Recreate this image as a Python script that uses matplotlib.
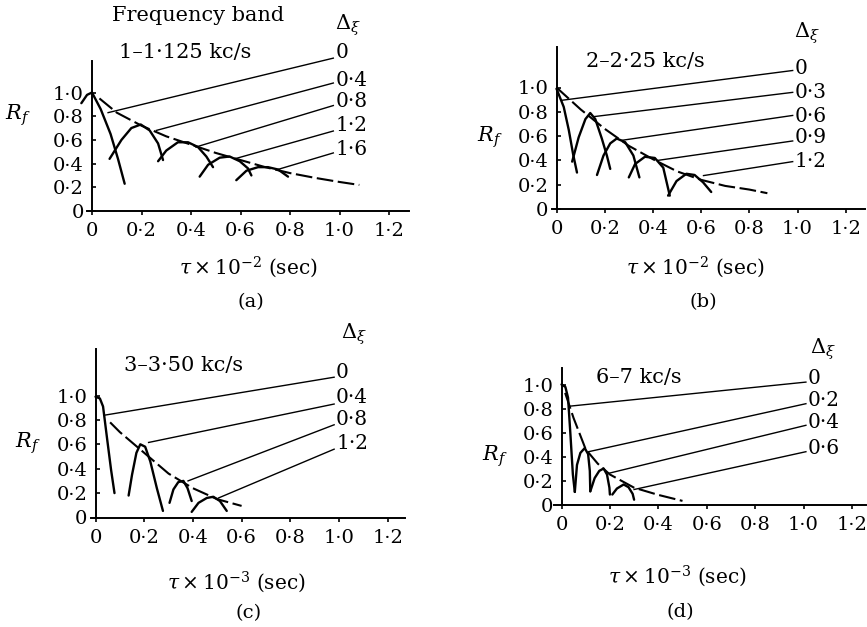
import matplotlib.pyplot as plt

plt.rcParams['font.family'] = 'DejaVu Serif'
plt.rcParams['mathtext.fontset'] = 'dejavuserif'

# ---------------- data ----------------
ticks_x = [0, 0.2, 0.4, 0.6, 0.8, 1.0, 1.2]
ticks_x_lab = ['0', '0·2', '0·4', '0·6', '0·8', '1·0', '1·2']
ticks_y = [0, 0.2, 0.4, 0.6, 0.8, 1.0]
ticks_y_lab = ['0', '0·2', '0·4', '0·6', '0·8', '1·0']

# (a) 1-1.125 kc/s
band_a = '1–1·125 kc/s'
env_x_a = [0.03, 0.1, 0.2, 0.3, 0.4, 0.5, 0.6, 0.7, 0.8, 0.9, 1.0, 1.08]
env_y_a = [0.95, 0.83, 0.72, 0.63, 0.56, 0.49, 0.43, 0.37, 0.32, 0.28, 0.245, 0.22]
humps_a = [
    ([-0.043, -0.02, 0.0, 0.035, 0.075, 0.105, 0.132], [0.91, 0.98, 1.0, 0.86, 0.65, 0.44, 0.23]),
    ([0.071, 0.119, 0.159, 0.197, 0.233, 0.267, 0.287], [0.44, 0.60, 0.70, 0.73, 0.68, 0.57, 0.43]),
    ([0.267, 0.30, 0.347, 0.388, 0.428, 0.462, 0.489], [0.42, 0.51, 0.58, 0.58, 0.54, 0.46, 0.37]),
    ([0.435, 0.469, 0.516, 0.556, 0.597, 0.63, 0.644], [0.29, 0.39, 0.45, 0.46, 0.42, 0.36, 0.30]),
    ([0.583, 0.624, 0.671, 0.711, 0.752, 0.792], [0.26, 0.34, 0.37, 0.37, 0.35, 0.29]),
]
delta_a = ['0', '0·4', '0·8', '1·2', '1·6']
lead_start_a = [(0.065, 0.83), (0.26, 0.68), (0.42, 0.54), (0.576, 0.44), (0.75, 0.35)]
lead_end_a = [(0.975, 1.29), (0.975, 1.08), (0.975, 0.89), (0.975, 0.675), (0.975, 0.49)]

# (b) 2-2.25 kc/s
band_b = '2–2·25 kc/s'
env_x_b = [0.0, 0.1, 0.2, 0.3, 0.4, 0.5, 0.6, 0.7, 0.8, 0.875]
env_y_b = [1.0, 0.82, 0.66, 0.52, 0.41, 0.31, 0.24, 0.19, 0.16, 0.13]
humps_b = [
    ([0.0, 0.03, 0.051, 0.069, 0.085], [0.99, 0.84, 0.65, 0.45, 0.30]),
    ([0.065, 0.092, 0.12, 0.14, 0.161, 0.188, 0.209, 0.223], [0.39, 0.59, 0.74, 0.79, 0.74, 0.58, 0.44, 0.33]),
    ([0.168, 0.195, 0.223, 0.25, 0.285, 0.319, 0.344], [0.28, 0.44, 0.54, 0.58, 0.55, 0.44, 0.26]),
    ([0.30, 0.326, 0.367, 0.408, 0.443, 0.47], [0.26, 0.37, 0.43, 0.42, 0.34, 0.11]),
    ([0.463, 0.498, 0.539, 0.573, 0.608, 0.642], [0.11, 0.23, 0.29, 0.28, 0.22, 0.14]),
]
delta_b = ['0', '0·3', '0·6', '0·9', '1·2']
lead_start_b = [(0.023, 0.895), (0.154, 0.76), (0.27, 0.565), (0.42, 0.40), (0.61, 0.275)]
lead_end_b = [(0.98, 1.14), (0.98, 0.96), (0.98, 0.77), (0.98, 0.56), (0.98, 0.39)]

# (c) 3-3.50 kc/s
band_c = '3–3·50 kc/s'
env_x_c = [0.06, 0.1, 0.2, 0.3, 0.4, 0.5, 0.6]
env_y_c = [0.78, 0.70, 0.53, 0.36, 0.24, 0.15, 0.095]
humps_c = [
    ([0.0, 0.018, 0.031, 0.048, 0.064, 0.078], [0.99, 0.976, 0.91, 0.64, 0.39, 0.20]),
    ([0.136, 0.15, 0.168, 0.184, 0.204, 0.225, 0.252, 0.277], [0.18, 0.35, 0.53, 0.60, 0.58, 0.46, 0.24, 0.054]),
    ([0.304, 0.32, 0.34, 0.361, 0.378, 0.395], [0.12, 0.23, 0.29, 0.30, 0.24, 0.135]),
    ([0.395, 0.423, 0.457, 0.484, 0.511, 0.539], [0.046, 0.12, 0.16, 0.17, 0.135, 0.054]),
]
delta_c = ['0', '0·4', '0·8', '1·2']
lead_start_c = [(0.041, 0.84), (0.218, 0.615), (0.38, 0.30), (0.505, 0.16)]
lead_end_c = [(0.98, 1.15), (0.98, 0.93), (0.98, 0.76), (0.98, 0.56)]

# (d) 6-7 kc/s
band_d = '6–7 kc/s'
env_x_d = [0.015, 0.05, 0.1, 0.15, 0.2, 0.3, 0.4, 0.5]
env_y_d = [0.93, 0.72, 0.46, 0.34, 0.25, 0.14, 0.08, 0.03]
humps_d = [
    ([0.0, 0.016, 0.027, 0.037, 0.047, 0.055], [1.0, 0.98, 0.89, 0.58, 0.25, 0.105]),
    ([0.055, 0.064, 0.078, 0.096, 0.11, 0.117, 0.119], [0.105, 0.33, 0.43, 0.47, 0.42, 0.28, 0.11]),
    ([0.119, 0.137, 0.156, 0.174, 0.188, 0.198, 0.20], [0.11, 0.22, 0.28, 0.30, 0.25, 0.14, 0.083]),
    ([0.21, 0.229, 0.257, 0.277, 0.294, 0.30], [0.083, 0.133, 0.167, 0.144, 0.089, 0.04]),
]
delta_d = ['0', '0·2', '0·4', '0·6']
lead_start_d = [(0.037, 0.82), (0.112, 0.44), (0.195, 0.26), (0.30, 0.125)]
lead_end_d = [(1.01, 1.02), (1.01, 0.84), (1.01, 0.66), (1.01, 0.44)]

# ---------------- layout (pixels of the 867x627 figure) ----------------
W, H = 867, 627
XLIM = (-0.12, 1.30)
YLIM = (-0.05, 1.42)

panels = [
    dict(x0=92, y0=211, sx=247.5, sy=118.5, xaxis=(-0.02, 1.28), ytop=1.27,
         band=band_a, band_pos=(0.376, 1.34), head_pos=(0.43, 1.65),
         env=(env_x_a, env_y_a), humps=humps_a, delta=delta_a,
         starts=lead_start_a, ends=lead_end_a, lab_y=[1.34, 1.105, 0.92, 0.72, 0.515],
         dxi=(1.035, 1.57),
         rf=(-0.30, 0.81), xlab=r'$\tau \times 10^{-2}$ (sec)', xlab_pos=(0.63, -0.47),
         tag='(a)', tag_pos=(0.64, -0.77)),
    dict(x0=556.5, y0=209, sx=241, sy=121.5, xaxis=(-0.02, 1.28), ytop=1.33,
         band=band_b, band_pos=(0.367, 1.21), head_pos=None,
         env=(env_x_b, env_y_b), humps=humps_b, delta=delta_b,
         starts=lead_start_b, ends=lead_end_b, lab_y=[1.16, 0.96, 0.765, 0.585, 0.39],
         dxi=(1.04, 1.45),
         rf=(-0.276, 0.59), xlab=r'$\tau \times 10^{-2}$ (sec)', xlab_pos=(0.575, -0.48),
         tag='(b)', tag_pos=(0.61, -0.77)),
    dict(x0=95.5, y0=517.5, sx=243.5, sy=122, xaxis=(-0.02, 1.27), ytop=1.38,
         band=band_c, band_pos=(0.36, 1.25), head_pos=None,
         env=(env_x_c, env_y_c), humps=humps_c, delta=delta_c,
         starts=lead_start_c, ends=lead_end_c, lab_y=[1.19, 0.98, 0.80, 0.61],
         dxi=(1.06, 1.50),
         rf=(-0.28, 0.61), xlab=r'$\tau \times 10^{-3}$ (sec)', xlab_pos=(0.58, -0.53),
         tag='(c)', tag_pos=(0.63, -0.78)),
    dict(x0=561.5, y0=504.5, sx=242, sy=120, xaxis=(-0.03, 1.26), ytop=1.14,
         band=band_d, band_pos=(0.32, 1.06), head_pos=None,
         env=(env_x_d, env_y_d), humps=humps_d, delta=delta_d,
         starts=lead_start_d, ends=lead_end_d, lab_y=[1.05, 0.87, 0.68, 0.47],
         dxi=(1.08, 1.29),
         rf=(-0.275, 0.40), xlab=r'$\tau \times 10^{-3}$ (sec)', xlab_pos=(0.48, -0.60),
         tag='(d)', tag_pos=(0.49, -0.90)),
]

fig = plt.figure(figsize=(W / 100, H / 100), dpi=100)

for p in panels:
    left = (p['x0'] + XLIM[0] * p['sx']) / W
    bottom = (H - (p['y0'] - YLIM[0] * p['sy'])) / H
    width = (XLIM[1] - XLIM[0]) * p['sx'] / W
    height = (YLIM[1] - YLIM[0]) * p['sy'] / H
    ax = fig.add_axes([left, bottom, width, height])
    ax.set_xlim(*XLIM)
    ax.set_ylim(*YLIM)
    ax.patch.set_visible(False)

    for s in ['top', 'right']:
        ax.spines[s].set_visible(False)
    ax.spines['left'].set_position(('data', 0))
    ax.spines['bottom'].set_position(('data', 0))
    ax.spines['left'].set_bounds(0, p['ytop'])
    ax.spines['bottom'].set_bounds(*p['xaxis'])
    ax.spines['left'].set_linewidth(1.4)
    ax.spines['bottom'].set_linewidth(1.4)

    ax.set_xticks(ticks_x, ticks_x_lab)
    ax.set_yticks(ticks_y, ticks_y_lab)
    ax.tick_params(axis='x', direction='out', length=3, width=1.2, pad=5, labelsize=14)
    ax.tick_params(axis='y', direction='in', length=3, width=1.2, pad=6, labelsize=14)

    # envelope (dashed)
    ax.plot(*p['env'], color='black', lw=1.5, ls=(0, (8, 2.2)), clip_on=False)
    # humps
    for hx, hy in p['humps']:
        ax.plot(hx, hy, color='black', lw=1.7, clip_on=False, solid_capstyle='round',
                solid_joinstyle='round')
    # leader lines and labels
    for lab, ly, (xs, ys), (xe, ye) in zip(p['delta'], p['lab_y'], p['starts'], p['ends']):
        ax.plot([xs, xe], [ys, ye], color='black', lw=1.0, clip_on=False)
        ax.text(xe + 0.008, ly, lab, ha='left', va='center', fontsize=14.5, clip_on=False)

    ax.text(*p['dxi'], r'$\Delta_\xi$', ha='center', va='center', fontsize=15)
    ax.text(*p['band_pos'], p['band'], ha='center', va='center', fontsize=15)
    if p['head_pos'] is not None:
        ax.text(*p['head_pos'], 'Frequency band', ha='center', va='center', fontsize=15)
    ax.text(*p['rf'], r'$R_f$', ha='center', va='center', fontsize=15)
    ax.text(*p['xlab_pos'], p['xlab'], ha='center', va='center', fontsize=14.5)
    ax.text(*p['tag_pos'], p['tag'], ha='center', va='center', fontsize=14)

fig.savefig('out.png', dpi=100, facecolor='white')
